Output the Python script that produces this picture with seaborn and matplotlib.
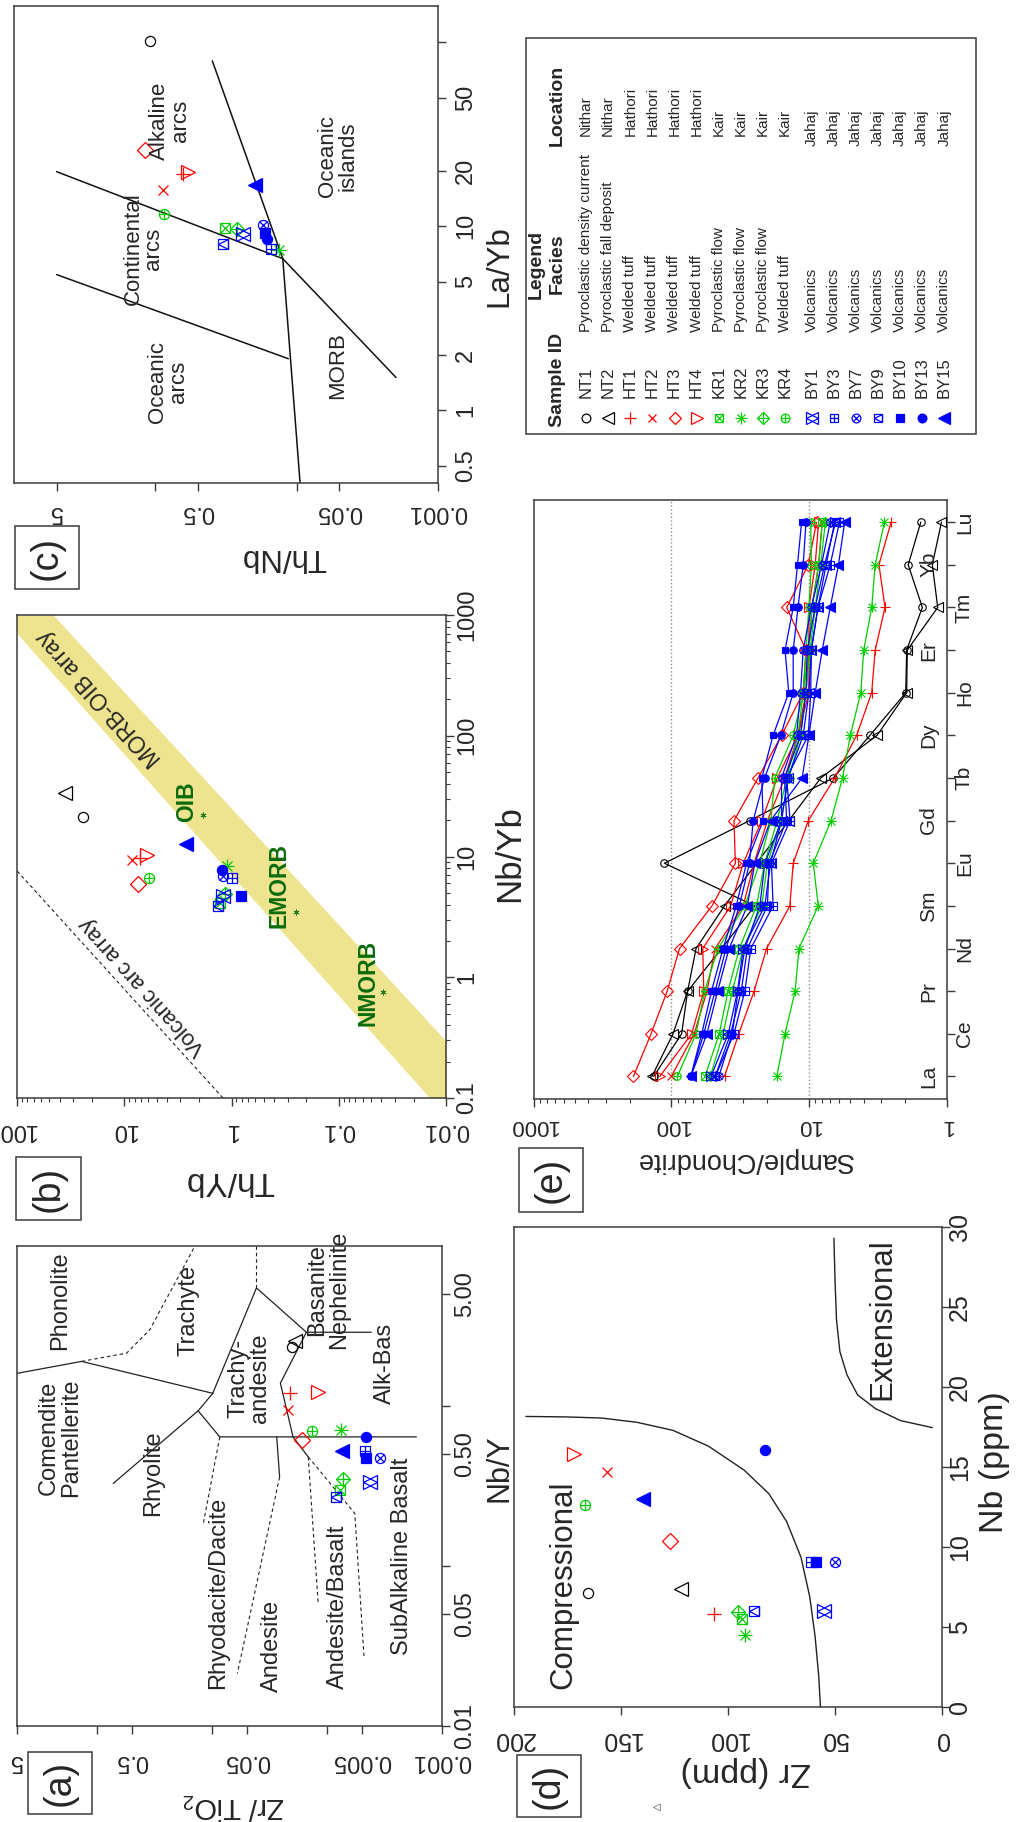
import numpy as np
import pandas as pd
import matplotlib
matplotlib.use("Agg")
import matplotlib.pyplot as plt
import seaborn as sns
from matplotlib.patches import Rectangle
from matplotlib.ticker import FixedLocator, NullLocator, NullFormatter

# ---------------------------------------------------------------- data
samples = ["NT1", "NT2", "HT1", "HT2", "HT3", "HT4", "KR1", "KR2", "KR3", "KR4",
           "BY1", "BY3", "BY7", "BY9", "BY10", "BY13", "BY15"]
facies = ["Pyroclastic density current", "Pyroclastic fall deposit",
          "Welded tuff", "Welded tuff", "Welded tuff", "Welded tuff",
          "Pyroclastic flow", "Pyroclastic flow", "Pyroclastic flow", "Welded tuff",
          "Volcanics", "Volcanics", "Volcanics", "Volcanics", "Volcanics", "Volcanics", "Volcanics"]
locations = ["Nithar", "Nithar", "Hathori", "Hathori", "Hathori", "Hathori",
             "Kair", "Kair", "Kair", "Kair",
             "Jahaj", "Jahaj", "Jahaj", "Jahaj", "Jahaj", "Jahaj", "Jahaj"]
groups = ["NT", "NT", "HT", "HT", "HT", "HT", "KR", "KR", "KR", "KR",
          "BY", "BY", "BY", "BY", "BY", "BY", "BY"]
pch = [1, 2, 3, 4, 5, 6, 7, 8, 9, 10, 11, 12, 13, 14, 15, 16, 17]
group_colors = {"NT": "#000000", "HT": "#FF0000", "KR": "#00CD00", "BY": "#0000FF"}

# (a) Winchester & Floyd: Nb/Y vs Zr/TiO2
a_nb_y = [2.34, 2.56, 1.21, 0.94, 0.61, 1.22, 0.30, 0.71, 0.35, 0.70,
          0.333, 0.525, 0.473, 0.27, 0.473, 0.641, 0.52]
a_zr_tio2 = [0.0204, 0.0191, 0.0211, 0.0219, 0.0167, 0.0120, 0.00766, 0.00751, 0.00728, 0.0134,
             0.00426, 0.00464, 0.00348, 0.0084, 0.00461, 0.00456, 0.00736]
# field boundaries (Zr/TiO2, Nb/Y)
a_solid = [
    [(5.0, 1.60), (1.37, 1.90), (0.0989, 1.20)],
    [(0.0989, 1.20), (0.0412, 5.47), (0.01515, 2.89), (0.00413, 2.89)],
    [(0.01515, 2.89), (0.0255, 1.39), (0.0198, 0.641), (0.0146, 0.481)],
    [(0.727, 0.328), (0.1326, 0.933), (0.0989, 1.20)],
    [(0.1326, 0.933), (0.0859, 0.641), (0.00167, 0.641)],
    [(0.02745, 0.641), (0.0259, 0.36)],
]
a_dashed = [
    [(1.37, 1.90), (0.556, 2.14), (0.349, 3.0), (0.1414, 10.0)],
    [(0.0412, 5.47), (0.0412, 10.0)],
    [(0.0259, 0.36), (0.0604, 0.0213)],
    [(0.0859, 0.641), (0.119, 0.187)],
    [(0.0146, 0.481), (0.01194, 0.0577)],
    [(0.0146, 0.481), (0.00574, 0.213), (0.00477, 0.027)],
]

# (b) Th/Yb vs Nb/Yb
b_nb_yb = [21.4, 33.6, 9.8, 9.4, 5.95, 10.3, 4.1, 8.3, 4.9, 6.7,
           4.74, 6.6, 6.84, 3.88, 4.74, 7.77, 12.6]
b_th_yb = [24.1, 35.7, 7.13, 8.51, 7.4, 6.17, 1.28, 1.10, 1.16, 5.83,
           1.19, 1.0, 1.2, 1.33, 0.81, 1.23, 2.63]
ref_names = ["OIB", "EMORB", "NMORB"]
ref_nb_yb = [22.2, 3.5, 0.76]
ref_th_yb = [1.85, 0.253, 0.039]
band_nb_yb = [0.1, 1000.0]
band_th_yb_low = [0.00324, 46.0]
band_th_yb_high = [0.0142, 142.0]
arc_nb_yb = [0.1, 7.6]
arc_th_yb = [1.2, 100.0]

# (c) Th/Nb vs La/Yb
c_la_yb = [102, np.nan, 19.3, 15.7, 26.1, 19.6, 9.77, 7.4, 9.7, 11.7,
           9.05, 7.5, 10.2, 8.0, 9.2, 8.5, 16.7]
c_th_nb = [1.09, np.nan, 0.634, 0.878, 1.18, 0.584, 0.320, 0.1326, 0.263, 0.868,
           0.238, 0.152, 0.172, 0.333, 0.167, 0.163, 0.197]
c_lines = [
    [(5.0, 19.8), (0.1254, 6.67), (0.0198, 1.51)],
    [(5.0, 5.47), (0.1145, 1.91)],
    [(0.395, 79.0), (0.1254, 6.67), (0.0946, 0.404)],
]

# (d) Zr vs Nb
d_nb = [7.1, 7.4, 5.8, 14.7, 10.4, 15.8, 5.5, 4.5, 5.95, 12.6,
        6.0, 9.05, 9.05, 6.0, 9.05, 16.05, 13.0]
d_zr = [165.6, 122.0, 106.6, 156.4, 127.0, 171.9, 93.3, 92.1, 95.3, 166.9,
        55.0, 61.2, 50.0, 87.8, 58.7, 82.8, 139.8]
comp_zr = [194.4, 175.6, 159.0, 142.4, 125.7, 109.1, 92.5, 80.9, 72.6, 65.9, 61.8, 59.3, 57.6, 56.8]
comp_nb = [18.16, 18.13, 18.06, 17.79, 17.29, 16.30, 14.81, 13.33, 11.59, 9.36, 6.89, 4.41, 1.93, 0.0]
ext_zr = [50.5, 50.0, 49.3, 47.7, 44.4, 39.4, 31.1, 19.4, 4.5]
ext_nb = [29.3, 26.7, 24.2, 22.2, 20.76, 19.5, 18.65, 17.9, 17.46]

# (e) chondrite-normalised REE
ree = ["La", "Ce", "Pr", "Nd", "Sm", "Eu", "Gd", "Tb", "Dy", "Ho", "Er", "Tm", "Yb", "Lu"]
e_nt1 = [134, 84, 76, 43, 24.7, 112, 27, 6.65, 3.6, 1.98, 1.95, 1.5, 1.9, 1.54]
e_nt2 = [138, 97, 76, 66, 41, 24, 14, 8.2, 3.2, 1.95, 1.93, 1.16, 1.27, 1.09]
e_ht1 = [41, 32.3, 25, 20.3, 13.75, 13, 10.1, 6.5, 4.5, 3.5, 3.3, 2.8, 3.1, 2.53]
e_ht2 = [99.8, 68, 55, 48, 30, 25, 20, 15, 12, 10.5, 10, 9.5, 8.5, 8]
e_ht3 = [188, 140, 107, 87, 50.6, 34.2, 35, 23.4, 15.8, 11, 10.5, 14.5, 10.1, 8.8]
e_ht4 = [121, 71, 58, 59, 37, 30, 22, 17, 12, 10, 10, 10, 9, 8.5]
e_kr1 = [56.8, 44.8, 38.7, 32, 24, 21, 17, 14.5, 12, 11, 10, 9.5, 8.5, 8]
e_kr2 = [17.1, 14.9, 12.6, 11.8, 8.55, 9.3, 6.9, 5.7, 5.0, 4.2, 4.0, 3.5, 3.3, 2.83]
e_kr3 = [52, 42, 36, 30, 22, 20, 16, 14, 11.5, 10.5, 9.8, 9, 8.2, 7.6]
e_kr4 = [90.3, 66, 57.2, 45.7, 29.2, 22.8, 18.9, 17.7, 13, 11, 10.5, 10, 9.6, 9.7]
e_by1 = [51.4, 38.5, 33, 30, 20.9, 19, 15.8, 14.2, 11, 10, 9.6, 8.6, 7.5, 6.5]
e_by3 = [47.9, 35, 29.2, 26.4, 18.2, 18.7, 13.7, 14.5, 10.1, 9.7, 9.6, 8.6, 7.0, 6.0]
e_by7 = [45.1, 36, 32.7, 29.2, 22.7, 20.9, 15.8, 15.8, 12.3, 11.5, 11, 9.6, 8.1, 7.0]
e_by9 = [48, 37, 31, 28, 20, 19.5, 14.5, 15, 11.5, 10.5, 10.3, 9, 7.7, 6.4]
e_by10 = [72, 60, 51, 42, 33.7, 28.4, 21.5, 22, 18.2, 14, 14.9, 13, 12.1, 11.3]
e_by13 = [72, 58, 48, 40, 32, 27, 25.4, 21, 16, 13, 13, 12, 11, 10.5]
e_by15 = [72, 55, 46, 38, 28, 24.7, 19, 11.2, 10, 9, 8.0, 7, 6.1, 5.5]
e_all = [e_nt1, e_nt2, e_ht1, e_ht2, e_ht3, e_ht4, e_kr1, e_kr2, e_kr3, e_kr4,
         e_by1, e_by3, e_by7, e_by9, e_by10, e_by13, e_by15]

# ---------------------------------------------------------------- style
sns.set_style("white")
plt.rcParams["font.family"] = ["Liberation Sans", "DejaVu Sans"]
plt.rcParams["mathtext.fontset"] = "custom"
plt.rcParams["mathtext.rm"] = "Liberation Sans"
plt.rcParams["mathtext.it"] = "Liberation Sans"

W, H = 1017, 1822
FRAME = "#3a3a3a"
fig = plt.figure(figsize=(W / 100, H / 100), dpi=100)
fig.patch.set_facecolor("white")


def rect(x0, y0, x1, y1):
    return [x0 / W, 1 - y1 / H, (x1 - x0) / W, (y1 - y0) / H]


def marker_parts(p, m):
    table = {
        1: [("o", m, 0)],
        2: [("<", 1.35 * m, 0)],
        3: [("+", 1.4 * m, 0)],
        4: [("x", m, 0)],
        5: [("D", 1.05 * m, 0)],
        6: [(">", 1.35 * m, 0)],
        7: [("s", 0.95 * m, 0), ("x", 0.95 * m, 0)],
        8: [("+", 1.4 * m, 0), ("x", m, 0)],
        9: [("D", 1.0 * m, 0), ("+", 1.4 * m, 0)],
        10: [("o", m, 0), ("+", m, 0)],
        11: [("<", 1.3 * m, 0), (">", 1.3 * m, 0)],
        12: [("s", 0.95 * m, 0), ("+", 0.95 * m, 0)],
        13: [("o", m, 0), ("x", 0.72 * m, 0)],
        14: [("s", 0.95 * m, 0), ("<", 0.95 * m, 0)],
        15: [("s", 0.9 * m, 1)],
        16: [("o", m, 1)],
        17: [("<", 1.35 * m, 1)],
    }
    return table[p]


def draw_pts(ax, xs, ys, p, color, m, mew=0.9, z=4):
    for mk, ms, filled in marker_parts(p, m):
        ax.plot(xs, ys, ls="none", marker=mk, ms=ms, mec=color,
                mfc=color if filled else "none", mew=mew, zorder=z)


def setup(ax, xscale, yscale, xlim, ylim, xt, yt, xminor=None, yminor=None):
    ax.set_xscale(xscale)
    ax.set_yscale(yscale)
    ax.set_xlim(*xlim)
    ax.set_ylim(*ylim)
    ax.xaxis.set_major_locator(FixedLocator(xt))
    ax.yaxis.set_major_locator(FixedLocator(yt))
    ax.xaxis.set_minor_locator(FixedLocator(xminor) if xminor is not None else NullLocator())
    ax.yaxis.set_minor_locator(FixedLocator(yminor) if yminor is not None else NullLocator())
    for axis in (ax.xaxis, ax.yaxis):
        axis.set_major_formatter(NullFormatter())
        axis.set_minor_formatter(NullFormatter())
    ax.yaxis.tick_right()
    ax.tick_params(which="major", direction="out", length=5.8, width=1.0, color=FRAME,
                   bottom=True, top=False, left=False, right=True,
                   labelbottom=False, labelleft=False, labelright=False, labeltop=False)
    ax.tick_params(which="minor", direction="out", length=3.2, width=0.8, color=FRAME,
                   bottom=True, top=False, left=False, right=True)
    for s in ax.spines.values():
        s.set_visible(True)
        s.set_color(FRAME)
        s.set_linewidth(1.1)
    ax.grid(False)
    ax.set_facecolor("white")


def bottom_labels(ax, vals, labs, d, fs):
    for v, l in zip(vals, labs):
        ax.annotate(l, xy=(v, 0), xycoords=("data", "axes fraction"),
                    xytext=(0, -d * 0.72), textcoords="offset points",
                    rotation=180, ha="center", va="center", fontsize=fs,
                    annotation_clip=False)


def right_labels(ax, vals, labs, d, fs):
    for v, l in zip(vals, labs):
        ax.annotate(l, xy=(1, v), xycoords=("axes fraction", "data"),
                    xytext=(d * 0.72, 0), textcoords="offset points",
                    rotation=90, ha="center", va="center", fontsize=fs,
                    annotation_clip=False)


colors = [group_colors[g] for g in groups]
DASH = (0, (3.2, 2.6))
M = 7.3

# ---------------------------------------------------------------- panel (a)
axa = fig.add_axes(rect(17, 1246, 442, 1726))
setup(axa, "log", "log", (5, 0.001), (0.01, 10),
      [5, 1, 0.5, 0.1, 0.05, 0.01, 0.005, 0.001], [5, 1, 0.5, 0.1, 0.05, 0.01])
for seg in a_solid:
    axa.plot([p[0] for p in seg], [p[1] for p in seg], color="#222222", lw=0.9, zorder=2)
for seg in a_dashed:
    axa.plot([p[0] for p in seg], [p[1] for p in seg], color="#222222", lw=0.8, ls=DASH, zorder=2)
for i in range(len(samples)):
    draw_pts(axa, [a_zr_tio2[i]], [a_nb_y[i]], pch[i], colors[i], M)
bottom_labels(axa, [5, 0.5, 0.05, 0.005, 0.001], ["5", "0.5", "0.05", "0.005", "0.001"], 35, 17)
right_labels(axa, [0.01, 0.05, 0.5, 5], ["0.01", "0.05", "0.50", "5.00"], 23, 17)

# ---------------------------------------------------------------- panel (b)
axb = fig.add_axes(rect(17, 615, 446, 1098))
minor_th = [k * 10.0 ** e for e in range(-2, 2) for k in range(2, 10)]
minor_nb = [k * 10.0 ** e for e in range(-1, 3) for k in range(2, 10)]
setup(axb, "log", "log", (100, 0.01), (0.1, 1000),
      [100, 10, 1, 0.1, 0.01], [0.1, 1, 10, 100, 1000], minor_th, minor_nb)
axb.fill_betweenx(band_nb_yb, band_th_yb_low, band_th_yb_high, color="#EEE38E", lw=0, zorder=1)
axb.plot(arc_th_yb, arc_nb_yb, color="#222222", lw=0.8, ls=DASH, zorder=2)
sns.scatterplot(x=ref_th_yb, y=ref_nb_yb, marker=(6, 2, 0), s=14, color="#1f7a1f",
                linewidth=0.7, ax=axb, zorder=3, legend=False)
for i in range(len(samples)):
    draw_pts(axb, [b_th_yb[i]], [b_nb_yb[i]], pch[i], colors[i], M)
bottom_labels(axb, [100, 10, 1, 0.1, 0.01], ["100", "10", "1", "0.1", "0.01"], 32, 17)
right_labels(axb, [0.1, 1, 10, 100, 1000], ["0.1", "1", "10", "100", "1000"], 21, 17)

# ---------------------------------------------------------------- panel (c)
axc = fig.add_axes(rect(14, 6, 438, 483))
setup(axc, "log", "log", (10, 0.01), (0.404, 157),
      [5, 1, 0.5, 0.1, 0.05, 0.01], [0.5, 1, 2, 5, 10, 20, 50, 100])
for seg in c_lines:
    axc.plot([p[0] for p in seg], [p[1] for p in seg], color="#111111", lw=1.1, zorder=2)
for i in range(len(samples)):
    draw_pts(axc, [c_th_nb[i]], [c_la_yb[i]], pch[i], colors[i], M)
bottom_labels(axc, [5, 0.5, 0.05, 0.01], ["5", "0.5", "0.05", "0.001"], 29, 17)
right_labels(axc, [0.5, 1, 2, 5, 10, 20, 50], ["0.5", "1", "2", "5", "10", "20", "50"], 28, 17)

# ---------------------------------------------------------------- panel (d)
axd = fig.add_axes(rect(514, 1227, 942, 1707))
setup(axd, "linear", "linear", (200, 0), (0, 30),
      [0, 50, 100, 150, 200], [0, 5, 10, 15, 20, 25, 30])
axd.plot(comp_zr, comp_nb, color="#222222", lw=1.0, zorder=2)
axd.plot(ext_zr, ext_nb, color="#222222", lw=1.0, zorder=2)
for i in range(len(samples)):
    draw_pts(axd, [d_zr[i]], [d_nb[i]], pch[i], colors[i], M)
bottom_labels(axd, [0, 50, 100, 150, 200], ["0", "50", "100", "150", "200"], 32.5, 18)
right_labels(axd, [0, 5, 10, 15, 20, 25, 30], ["0", "5", "10", "15", "20", "25", "30"], 18, 18)

# ---------------------------------------------------------------- panel (e)
axe = fig.add_axes(rect(533.5, 500, 946.6, 1098.6))
minor_sc = [k * 10.0 ** e for e in range(0, 3) for k in range(2, 10)]
setup(axe, "log", "linear", (1000, 1), (-0.52, 13.52),
      [1, 10, 100, 1000], list(range(len(ree))), minor_sc, None)
axe.axvline(10, color="#8c8c8c", lw=1.0, ls=":", zorder=1)
axe.axvline(100, color="#8c8c8c", lw=1.0, ls=":", zorder=1)
rows = []
for s, vals in zip(samples, e_all):
    for j, v in enumerate(vals):
        rows.append({"sample": s, "ree_idx": j, "value": v})
df_e = pd.DataFrame(rows)
sns.lineplot(data=df_e, x="value", y="ree_idx", hue="sample", hue_order=samples,
             palette=dict(zip(samples, colors)), orient="y", estimator=None, sort=True,
             legend=False, linewidth=0.9, ax=axe, zorder=2)
for i, vals in enumerate(e_all):
    draw_pts(axe, vals, list(range(len(ree))), pch[i], colors[i], 5.4, mew=0.8, z=3)
bottom_labels(axe, [1, 10, 100, 1000], ["1", "10", "100", "1000"], 26.5, 16)
for j, el in enumerate(ree):
    d = -17.7 if j % 2 == 0 else 17.7
    axe.annotate(el, xy=(1, j), xycoords=("axes fraction", "data"),
                 xytext=(d * 0.72, 0), textcoords="offset points",
                 rotation=90, ha="center", va="center", fontsize=15, annotation_clip=False)

# ---------------------------------------------------------------- overlay (px coords)
ov = fig.add_axes([0, 0, 1, 1], zorder=10)
ov.set_xlim(0, W)
ov.set_ylim(H, 0)
ov.axis("off")
ov.set_facecolor("none")


def T(x, y, s, rot=90, fs=17, **kw):
    ov.text(x, y, s, rotation=rot, rotation_mode="anchor", ha=kw.pop("ha", "center"),
            va=kw.pop("va", "center"), fontsize=fs, multialignment="center", **kw)


# region labels (a)
for s, x, y in [("Phonolite", 60, 1301), ("Trachyte", 188, 1310),
                ("Comendite\nPantellerite", 60, 1438), ("Rhyolite", 153, 1473),
                ("Trachy-\nandesite", 249, 1378), ("Basanite\nNephelinite", 328, 1290),
                ("Alk-Bas", 385, 1363), ("Rhyodacite/Dacite", 218, 1593),
                ("Andesite", 272, 1646), ("Andesite/Basalt", 338, 1607),
                ("SubAlkaline Basalt", 402, 1556)]:
    T(x, y, s, fs=17, linespacing=1.0)
# region labels (c)
for s, x, y in [("Alkaline\narcs", 170, 121), ("Continental\narcs", 143, 249),
                ("Oceanic\narcs", 168, 382), ("Oceanic\nislands", 338, 156), ("MORB", 338, 366)]:
    T(x, y, s, fs=16, linespacing=0.95)
# region labels (d)
T(563, 1585, "Compressional", fs=22.5)
T(882, 1319, "Extensional", fs=22.5)
# labels (b)
T(99, 698, "MORB-OIB array", rot=132, fs=16.5)
T(143, 986, "Volcanic arc array", rot=132, fs=16)
for s, x, y in [("OIB", 187, 802), ("EMORB", 279, 886), ("NMORB", 368, 983)]:
    T(x, y, s, fs=16.5, fontweight="bold", color="#0b6b0b")

# axis titles
T(499, 1468, "Nb/Y", rot=90, fs=22)
T(233, 1806, "Zr/ TiO$_2$", rot=180, fs=21)
T(510, 854, "Nb/Yb", rot=90, fs=25)
T(230, 1180, "Th/Yb", rot=180, fs=24)
T(499, 266, "La/Yb", rot=90, fs=22.5)
T(284, 557, "Th/Nb", rot=180, fs=22.5)
T(995, 1462, "Nb (ppm)", rot=90, fs=24.5)
T(746, 1771, "Zr (ppm)", rot=180, fs=24.5)
T(744, 1160, "Sample/Chondrite", rot=180, fs=19.5)

# panel tags
for s, x0, y0, x1, y1 in [("(a)", 28, 1752, 92, 1814), ("(b)", 16, 1157, 81, 1220),
                          ("(c)", 15, 526, 79, 589), ("(d)", 517, 1755, 581, 1817),
                          ("(e)", 519, 1148, 583, 1212)]:
    ov.add_patch(Rectangle((x0, y0), x1 - x0, y1 - y0, fill=False, ec=FRAME, lw=1.1))
    T((x0 + x1) / 2, (y0 + y1) / 2, s, fs=27)

# stray symbol below panel (d)
T(657, 1807, "\u25c1", rot=0, fs=7)

# legend
ov.add_patch(Rectangle((525.7, 38.2), 450.1, 395.6, fill=False, ec=FRAME, lw=1.1))
T(557.7, 427, "Sample ID", fs=14, ha="left", fontweight="bold")
T(536.4, 264, "Legend", fs=14, fontweight="bold")
T(557.7, 264, "Facies", fs=14, fontweight="bold")
T(557.7, 146.4, "Location", fs=14, ha="left", fontweight="bold")
for i in range(len(samples)):
    x = 586.1 + 22.1 * i + (4.6 if i >= 10 else 0)
    draw_pts(ov, [x], [417.7], pch[i], colors[i], 6.3, mew=0.9)
    T(x, 398, samples[i], fs=12, ha="left")
    T(x, 332, facies[i], fs=11, ha="left")
    T(x, 146.4 if groups[i] == "BY" else 135.7, locations[i], fs=11, ha="left")

fig.savefig("out.png", dpi=100, facecolor="white")
